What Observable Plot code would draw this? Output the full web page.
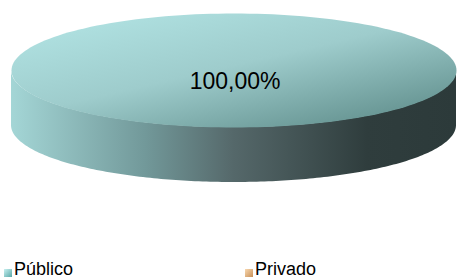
<!DOCTYPE html>
<html>
<head>
<meta charset="utf-8">
<script src="https://cdn.jsdelivr.net/npm/d3@7"></script>
<script src="https://cdn.jsdelivr.net/npm/@observablehq/plot@0.6"></script>
<style>
  html, body { margin: 0; padding: 0; background: #fff; overflow: hidden; }
  body { width: 457px; height: 280px; position: relative; font-family: "Liberation Sans", Arial, sans-serif; }
  #legend { position: absolute; left: 0; top: 259px; width: 457px; height: 21px; }
  .item { position: absolute; top: 0; font-size: 18px; color: #000; white-space: nowrap; line-height: 20px; }
  .sw { position: absolute; top: 10px; width: 8px; height: 8px; }
</style>
</head>
<body>
<div id="chart"></div>
<div id="legend"></div>
<script>
// Data
const categories = ["Público", "Privado"];
const values = [100, 0];
const labels = ["100,00%", "0,00%"];
const topColors = [["#b2e4e4", "#9ecccc", "#6a9896", "#4f7876"], ["#f0c898", "#d8a878", "#b88858", "#a87848"]];
const sideColors = [["#a4d6d6", "#72999a", "#55686a", "#2f3d3d", "#2c3a3a"], ["#e8b888", "#c89060", "#a06838", "#704420", "#603818"]];
const swatchColors = [["#c8f0f0", "#5aa8a8"], ["#f8d8b0", "#c89058"]];

const depth = 0.965; // side thickness in units of vertical radius
const total = d3.sum(values);
const N = 180;

// Build slice geometry from values
let acc = 0;
const slices = values.map((v, i) => {
  const a0 = acc / total * 2 * Math.PI;
  acc += v;
  const a1 = acc / total * 2 * Math.PI;
  return {i, name: categories[i], a0, a1, v};
});

const topPts = [];
const sidePts = [];
for (const s of slices) {
  if (s.v <= 0) continue;
  const full = (s.a1 - s.a0) >= 2 * Math.PI - 1e-9;
  if (!full) topPts.push({i: s.i, x: 0, y: 0});
  for (let k = 0; k <= N; k++) {
    const t = s.a0 + (s.a1 - s.a0) * k / N;
    topPts.push({i: s.i, x: Math.cos(t), y: Math.sin(t)});
  }
  if (!full) topPts.push({i: s.i, x: 0, y: 0});
  const lo = Math.max(s.a0, Math.PI), hi = Math.min(s.a1, 2 * Math.PI);
  if (hi > lo) {
    for (let k = 0; k <= N; k++) {
      const t = lo + (hi - lo) * k / N;
      sidePts.push({i: s.i, x: Math.cos(t), y1: Math.sin(t), y2: Math.sin(t) - depth});
    }
  }
}

const labelPts = slices.filter(s => s.v > 0).map(s => {
  const full = (s.a1 - s.a0) >= 2 * Math.PI - 1e-9;
  const m = (s.a0 + s.a1) / 2;
  return {i: s.i, x: full ? 0.005 : 0.6 * Math.cos(m), y: full ? -0.19 : 0.6 * Math.sin(m), text: labels[s.i]};
});

const chart = Plot.plot({
  width: 457,
  height: 250,
  margin: 0,
  x: {domain: [-1, 1], range: [11, 456], axis: null},
  y: {domain: [-1, 1], range: [127, 13], axis: null},
  marks: [
    ...slices.filter(s => s.v > 0).map(s =>
      Plot.areaY(sidePts.filter(d => d.i === s.i), {x: "x", y1: "y1", y2: "y2", fill: `url(#side${s.i})`, curve: "linear"})
    ),
    ...slices.filter(s => s.v > 0).map(s =>
      Plot.line(topPts.filter(d => d.i === s.i), {x: "x", y: "y", fill: `url(#top${s.i})`, stroke: "none", curve: "linear"})
    ),
    Plot.text(labelPts, {x: "x", y: "y", text: "text", fontSize: 23, fontFamily: "Liberation Sans, Arial, sans-serif", fill: "#000"})
  ]
});

// gradients
const svg = d3.select(chart);
const defs = svg.insert("defs", ":first-child");
slices.forEach(s => {
  const tg = defs.append("linearGradient").attr("id", `top${s.i}`)
    .attr("x1", 0.1).attr("y1", 0).attr("x2", 1).attr("y2", 1);
  const toffs = [0, 0.45, 0.85, 1];
  topColors[s.i].forEach((c, k) => tg.append("stop").attr("offset", toffs[k]).attr("stop-color", c));
  const sg = defs.append("linearGradient").attr("id", `side${s.i}`)
    .attr("x1", 0).attr("y1", 0).attr("x2", 1).attr("y2", 0);
  const offs = [0, 0.3, 0.5, 0.8, 1];
  sideColors[s.i].forEach((c, k) => sg.append("stop").attr("offset", offs[k]).attr("stop-color", c));
});
document.getElementById("chart").appendChild(chart);

// legend
const legend = d3.select("#legend");
const pos = [4, 245];
categories.forEach((c, i) => {
  const it = legend.append("div").attr("class", "item").style("left", pos[i] + "px");
  it.append("div").attr("class", "sw").style("left", "0px")
    .style("background", `linear-gradient(135deg, ${swatchColors[i][0]}, ${swatchColors[i][1]})`);
  it.append("span").style("margin-left", "10px").text(c);
});
</script>
</body>
</html>
